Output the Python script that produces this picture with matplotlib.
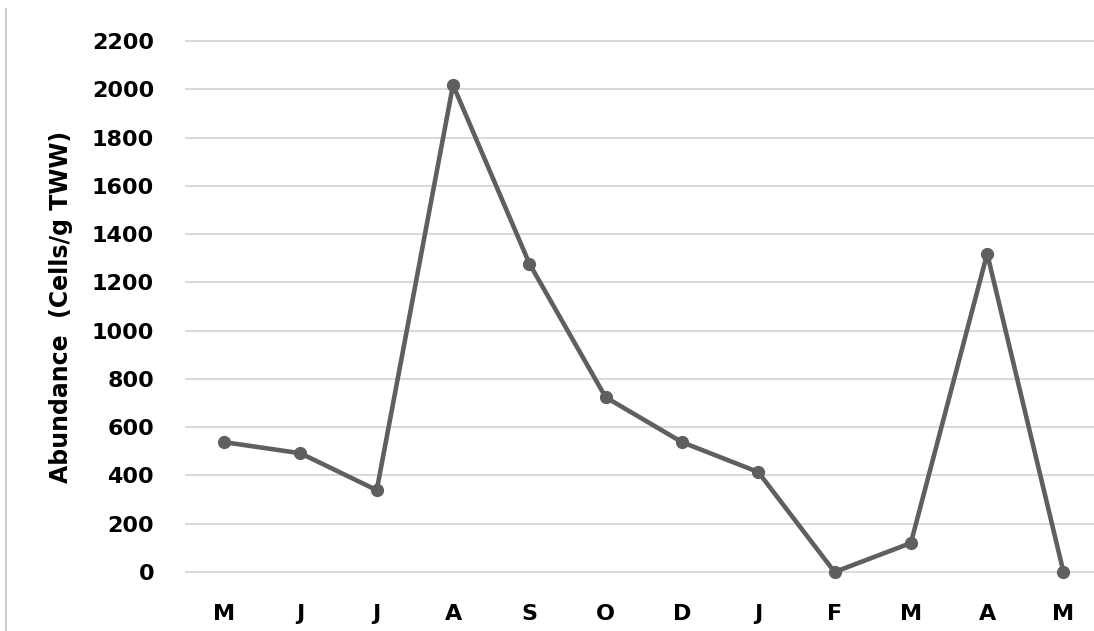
import matplotlib
matplotlib.use("Agg")
from matplotlib import pyplot as plt
from matplotlib.lines import Line2D

# Monthly abundance readings
months = ['M', 'J', 'J', 'A', 'S', 'O', 'D', 'J', 'F', 'M', 'A', 'M']
abundance = [538, 492, 339, 2018, 1278, 724, 538, 414, 0, 120, 1319, 0]
y_ticks = list(range(0, 2201, 200))

fig = plt.figure(figsize=(10.94, 6.31), dpi=100)
ax = fig.add_axes([0.170, 0.0935, 0.830, 0.8415])

x = list(range(len(months)))
ax.plot(x, abundance, color='#5f5f5f', linewidth=3.3, marker='o',
        markersize=8.5, solid_joinstyle='round', zorder=3, clip_on=False)

ax.set_xlim(-0.5, 11.4)
ax.set_ylim(0, 2200)
ax.set_yticks(y_ticks)
ax.set_xticks(x)
ax.set_xticklabels(months)

ax.grid(axis='y', color='#d9d9d9', linewidth=1.4)
for gl in ax.get_ygridlines():
    gl.set_clip_on(False)
ax.set_axisbelow(True)
for side in ['top', 'right', 'left', 'bottom']:
    ax.spines[side].set_visible(False)
ax.tick_params(axis='both', length=0, labelsize=16)
ax.tick_params(axis='y', pad=23)
ax.tick_params(axis='x', pad=23)
for lab in ax.get_xticklabels() + ax.get_yticklabels():
    lab.set_fontweight('bold')

ax.set_ylabel('Abundance  (Cells/g TWW)', fontsize=17, fontweight='bold')
ax.yaxis.set_label_coords(-0.124, 0.5)

# thin frame line on the left edge of the picture
fig.add_artist(Line2D([0.0055, 0.0055], [0.0, 0.985], color='#d0d0d0',
                      linewidth=1.5, transform=fig.transFigure))

fig.savefig('out.png', dpi=100)
